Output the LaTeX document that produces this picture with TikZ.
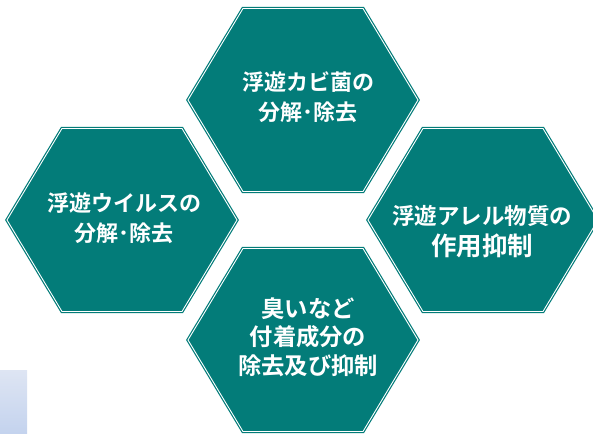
\documentclass[tikz,border=0pt]{standalone}
\usepackage{fontspec}
\setmainfont{Noto Sans CJK JP}[BoldFont={Noto Sans CJK JP Bold}]
\definecolor{hexteal}{RGB}{3,124,121}
\definecolor{gradtop}{RGB}{222,229,243}
\definecolor{gradbot}{RGB}{196,211,238}
\begin{document}
\begin{tikzpicture}[x=1pt,y=-1pt,
  hexshape/.style={fill=hexteal,draw=hexteal,line width=1.2pt,double=white,double distance=0.9pt,line join=miter},
  hexlabel/.style={text=white,align=center,font=\fontsize{22}{29.5}\selectfont\bfseries,inner sep=0pt},
  hexa/.pic={\path[hexshape] (-115,0) -- (-60,-91.5) -- (60,-91.5) -- (115,0) -- (60,91.5) -- (-60,91.5) -- cycle;}]
\useasboundingbox (0,0) rectangle (593,433);
\clip (0,0) rectangle (593,433);
\shade[top color=gradtop,bottom color=gradbot] (0,370) rectangle (27,433);
\pic at (303,100) {hexa};
\pic at (122,220) {hexa};
\pic at (483,220) {hexa};
\pic at (303,340) {hexa};
\node[hexlabel] (mold) at (308,97) {浮遊カビ菌の\\分解･除去};
\node[hexlabel] (virus) at (124,218) {浮遊ウイルスの\\分解･除去};
\node[hexlabel,font=\fontsize{22.5}{31}\selectfont\bfseries] (allergen) at (482,232) {浮遊アレル物質の\\{\fontsize{25.5}{31}\selectfont 作用抑制}};
\node[hexlabel,font=\fontsize{23.3}{28.5}\selectfont\bfseries] (odor) at (308,337) {臭いなど\\付着成分の\\除去及び抑制};
\end{tikzpicture}
\end{document}
